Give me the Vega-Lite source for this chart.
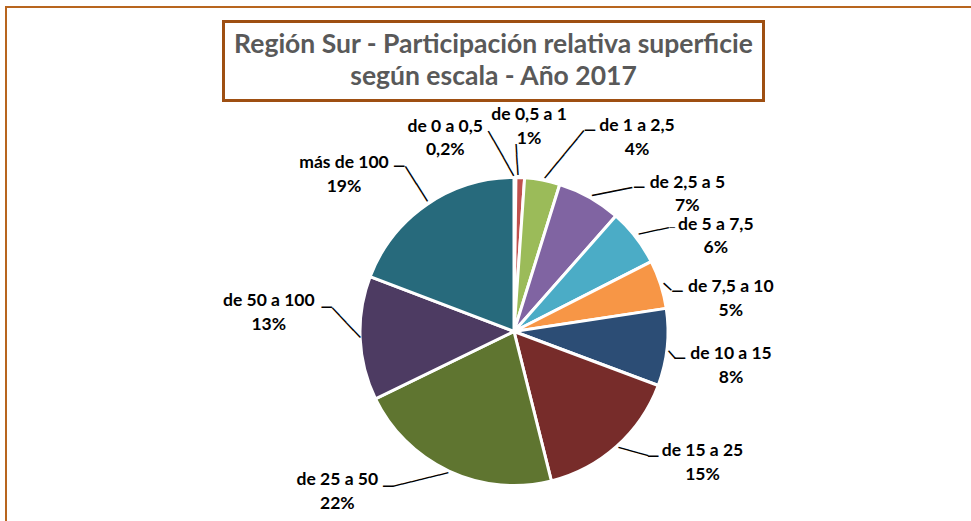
{
  "$schema": "https://vega.github.io/schema/vega-lite/v6.json",
  "background": "white",
  "padding": {"left": 6, "top": 7, "right": 0, "bottom": 0},
  "width": 1016,
  "height": 649,
  "view": {"stroke": "#B8651E", "strokeWidth": 2},
  "config": {"font": "Lato", "legend": {"strokeWidth": 3}},
  "data": {"values": [
    {"orden": 1, "escala": "de 0 a 0,5", "pct": 0.2, "etiqueta": "de 0 a 0,5\n0,2%"},
    {"orden": 2, "escala": "de 0,5 a 1", "pct": 0.9, "etiqueta": "de 0,5 a 1\n1%"},
    {"orden": 3, "escala": "de 1 a 2,5", "pct": 3.7, "etiqueta": "de 1 a 2,5\n4%"},
    {"orden": 4, "escala": "de 2,5 a 5", "pct": 6.7, "etiqueta": "de 2,5 a 5\n7%"},
    {"orden": 5, "escala": "de 5 a 7,5", "pct": 6.0, "etiqueta": "de 5 a 7,5\n6%"},
    {"orden": 6, "escala": "de 7,5  a 10", "pct": 5.1, "etiqueta": "de 7,5  a 10\n5%"},
    {"orden": 7, "escala": "de 10 a 15", "pct": 8.1, "etiqueta": "de 10 a 15\n8%"},
    {"orden": 8, "escala": "de 15 a 25", "pct": 15.4, "etiqueta": "de 15 a 25\n15%"},
    {"orden": 9, "escala": "de 25 a 50", "pct": 21.7, "etiqueta": "de 25 a 50\n22%"},
    {"orden": 10, "escala": "de 50 a 100", "pct": 13.0, "etiqueta": "de 50 a 100\n13%"},
    {"orden": 11, "escala": "más de 100", "pct": 19.2, "etiqueta": "más de 100\n19%"}
  ]},
  "encoding": {
    "theta": {"field": "pct", "type": "quantitative", "stack": true},
    "order": {"field": "orden", "type": "quantitative"}
  },
  "layer": [
    {
      "mark": {"type": "arc", "outerRadius": 154, "stroke": "white", "strokeWidth": 3},
      "encoding": {
        "color": {"field": "escala", "type": "nominal", "legend": null, "sort": null,
          "scale": {"domain": ["de 0 a 0,5", "de 0,5 a 1", "de 1 a 2,5", "de 2,5 a 5", "de 5 a 7,5", "de 7,5  a 10", "de 10 a 15", "de 15 a 25", "de 25 a 50", "de 50 a 100", "más de 100"],
            "range": ["#4F81BD", "#C0504D", "#9BBB59", "#8064A2", "#4BACC6", "#F79646", "#2C4D75", "#772C2A", "#5F7530", "#4D3B62", "#276A7C"]}}
      }
    },
    {
      "data": {"values": [{"titulo": "t"}]},
      "mark": {"type": "point", "size": 0, "opacity": 0},
      "encoding": {
        "theta": {"value": 0},
        "shape": {"field": "titulo", "type": "nominal", "legend": {
          "title": ["Región Sur - Participación relativa superficie", "según escala - Año 2017"],
          "orient": "none", "legendX": 217.5, "legendY": 14.5,
          "titleFont": "Lato", "titleFontSize": 26.5, "titleFontWeight": "bold", "titleColor": "#595959",
          "titleLineHeight": 32, "titleAlign": "center", "titleAnchor": "middle", "titleLimit": 2000, "titlePadding": 0, "titleBaseline": "top",
          "padding": 10, "strokeColor": "#9E4F12", "fillColor": "white",
          "labelExpr": "''", "symbolSize": 0, "symbolOpacity": 0, "symbolStrokeWidth": 0, "labelFontSize": 1, "rowPadding": 0
        }}
      }
    },
    {"mark": {"type": "text", "text": "─────", "font": "DejaVu Sans Mono", "fontSize": 17, "color": "black", "align": "center", "baseline": "middle", "radius": 178.2, "thetaOffset": -0.0833, "angle": 60.6},
     "encoding": {"opacity": {"condition": {"test": "datum.orden === 1", "value": 1}, "value": 0}}},
    {"mark": {"type": "text", "text": "───", "font": "DejaVu Sans Mono", "fontSize": 17, "color": "black", "align": "center", "baseline": "middle", "radius": 171.9, "thetaOffset": -0.0286, "angle": 86.5},
     "encoding": {"opacity": {"condition": {"test": "datum.orden === 2", "value": 1}, "value": 0}}},
    {"mark": {"type": "text", "text": "──────", "font": "DejaVu Sans Mono", "fontSize": 17, "color": "black", "align": "center", "baseline": "middle", "radius": 183.8, "thetaOffset": 0.0948, "angle": 309.5},
     "encoding": {"opacity": {"condition": {"test": "datum.orden === 3", "value": 1}, "value": 0}}},
    {"mark": {"type": "text", "text": "─", "font": "DejaVu Sans Mono", "fontSize": 17, "color": "black", "align": "center", "baseline": "middle", "radius": 214.7, "thetaOffset": 0.1754},
     "encoding": {"opacity": {"condition": {"test": "datum.orden === 3", "value": 1}, "value": 0}}},
    {"mark": {"type": "text", "text": "────", "font": "DejaVu Sans Mono", "fontSize": 17, "color": "black", "align": "center", "baseline": "middle", "radius": 170.3, "thetaOffset": 0.1031, "angle": 348.6},
     "encoding": {"opacity": {"condition": {"test": "datum.orden === 4", "value": 1}, "value": 0}}},
    {"mark": {"type": "text", "text": "─", "font": "DejaVu Sans Mono", "fontSize": 17, "color": "black", "align": "center", "baseline": "middle", "radius": 190.2, "thetaOffset": 0.2053},
     "encoding": {"opacity": {"condition": {"test": "datum.orden === 4", "value": 1}, "value": 0}}},
    {"mark": {"type": "text", "text": "───", "font": "DejaVu Sans Mono", "fontSize": 17, "color": "black", "align": "center", "baseline": "middle", "radius": 172, "thetaOffset": 0.0401, "angle": 348.1},
     "encoding": {"opacity": {"condition": {"test": "datum.orden === 5", "value": 1}, "value": 0}}},
    {"mark": {"type": "text", "text": "─", "font": "DejaVu Sans Mono", "fontSize": 9, "color": "black", "align": "center", "baseline": "middle", "radius": 189, "thetaOffset": 0.0815},
     "encoding": {"opacity": {"condition": {"test": "datum.orden === 5", "value": 1}, "value": 0}}},
    {"mark": {"type": "text", "text": "─", "font": "DejaVu Sans Mono", "fontSize": 17, "color": "black", "align": "center", "baseline": "middle", "radius": 159.2, "thetaOffset": 0.0304, "angle": 43},
     "encoding": {"opacity": {"condition": {"test": "datum.orden === 6", "value": 1}, "value": 0}}},
    {"mark": {"type": "text", "text": "─", "font": "DejaVu Sans Mono", "fontSize": 17, "color": "black", "align": "center", "baseline": "middle", "radius": 168.1, "thetaOffset": 0.0714},
     "encoding": {"opacity": {"condition": {"test": "datum.orden === 6", "value": 1}, "value": 0}}},
    {"mark": {"type": "text", "text": "─", "font": "DejaVu Sans Mono", "fontSize": 17, "color": "black", "align": "center", "baseline": "middle", "radius": 159.3, "thetaOffset": 0.0469, "angle": 48.6},
     "encoding": {"opacity": {"condition": {"test": "datum.orden === 7", "value": 1}, "value": 0}}},
    {"mark": {"type": "text", "text": "─", "font": "DejaVu Sans Mono", "fontSize": 17, "color": "black", "align": "center", "baseline": "middle", "radius": 168.1, "thetaOffset": 0.0618},
     "encoding": {"opacity": {"condition": {"test": "datum.orden === 7", "value": 1}, "value": 0}}},
    {"mark": {"type": "text", "text": "───", "font": "DejaVu Sans Mono", "fontSize": 17, "color": "black", "align": "center", "baseline": "middle", "radius": 169.7, "thetaOffset": -0.0490, "angle": 15.6},
     "encoding": {"opacity": {"condition": {"test": "datum.orden === 8", "value": 1}, "value": 0}}},
    {"mark": {"type": "text", "text": "─", "font": "DejaVu Sans Mono", "fontSize": 17, "color": "black", "align": "center", "baseline": "middle", "radius": 187.1, "thetaOffset": -0.1094},
     "encoding": {"opacity": {"condition": {"test": "datum.orden === 8", "value": 1}, "value": 0}}},
    {"mark": {"type": "text", "text": "──────", "font": "DejaVu Sans Mono", "fontSize": 15.7, "color": "black", "align": "center", "baseline": "middle", "radius": 175.3, "thetaOffset": 0.1250, "angle": 346.3},
     "encoding": {"opacity": {"condition": {"test": "datum.orden === 9", "value": 1}, "value": 0}}},
    {"mark": {"type": "text", "text": "─", "font": "DejaVu Sans Mono", "fontSize": 17, "color": "black", "align": "center", "baseline": "middle", "radius": 199.8, "thetaOffset": 0.2452},
     "encoding": {"opacity": {"condition": {"test": "datum.orden === 9", "value": 1}, "value": 0}}},
    {"mark": {"type": "text", "text": "────", "font": "DejaVu Sans Mono", "fontSize": 17, "color": "black", "align": "center", "baseline": "middle", "radius": 168.5, "thetaOffset": 0.0932, "angle": 46.7},
     "encoding": {"opacity": {"condition": {"test": "datum.orden === 10", "value": 1}, "value": 0}}},
    {"mark": {"type": "text", "text": "─", "font": "DejaVu Sans Mono", "fontSize": 17, "color": "black", "align": "center", "baseline": "middle", "radius": 188.9, "thetaOffset": 0.1676},
     "encoding": {"opacity": {"condition": {"test": "datum.orden === 10", "value": 1}, "value": 0}}},
    {"mark": {"type": "text", "text": "────", "font": "DejaVu Sans Mono", "fontSize": 17, "color": "black", "align": "center", "baseline": "middle", "radius": 176.9, "thetaOffset": 0.0141, "angle": 57.8},
     "encoding": {"opacity": {"condition": {"test": "datum.orden === 11", "value": 1}, "value": 0}}},
    {"mark": {"type": "text", "text": "─", "font": "DejaVu Sans Mono", "fontSize": 17, "color": "black", "align": "center", "baseline": "middle", "radius": 200.5, "thetaOffset": -0.0075},
     "encoding": {"opacity": {"condition": {"test": "datum.orden === 11", "value": 1}, "value": 0}}},
    {"mark": {"type": "text", "lineBreak": "\n", "font": "Lato", "fontWeight": "bold", "fontSize": 17.5, "lineHeight": 23.5, "color": "black", "align": "center", "baseline": "middle", "dy": -11.75, "radius": 204.8, "thetaOffset": -0.3484},
     "encoding": {"text": {"field": "etiqueta", "type": "nominal"}, "opacity": {"condition": {"test": "datum.orden === 1", "value": 1}, "value": 0}}},
    {"mark": {"type": "text", "lineBreak": "\n", "font": "Lato", "fontWeight": "bold", "fontSize": 17.5, "lineHeight": 23.5, "color": "black", "align": "center", "baseline": "middle", "dy": -11.75, "radius": 205.2, "thetaOffset": 0.0328},
     "encoding": {"text": {"field": "etiqueta", "type": "nominal"}, "opacity": {"condition": {"test": "datum.orden === 2", "value": 1}, "value": 0}}},
    {"mark": {"type": "text", "lineBreak": "\n", "font": "Lato", "fontWeight": "bold", "fontSize": 17.5, "lineHeight": 23.5, "color": "black", "align": "center", "baseline": "middle", "dy": -11.75, "radius": 229.4, "thetaOffset": 0.3807},
     "encoding": {"text": {"field": "etiqueta", "type": "nominal"}, "opacity": {"condition": {"test": "datum.orden === 3", "value": 1}, "value": 0}}},
    {"mark": {"type": "text", "lineBreak": "\n", "font": "Lato", "fontWeight": "bold", "fontSize": 17.5, "lineHeight": 23.5, "color": "black", "align": "center", "baseline": "middle", "dy": -11.75, "radius": 220.9, "thetaOffset": 0.3903},
     "encoding": {"text": {"field": "etiqueta", "type": "nominal"}, "opacity": {"condition": {"test": "datum.orden === 4", "value": 1}, "value": 0}}},
    {"mark": {"type": "text", "lineBreak": "\n", "font": "Lato", "fontWeight": "bold", "fontSize": 17.5, "lineHeight": 23.5, "color": "black", "align": "center", "baseline": "middle", "dy": -11.75, "radius": 223.1, "thetaOffset": 0.2194},
     "encoding": {"text": {"field": "etiqueta", "type": "nominal"}, "opacity": {"condition": {"test": "datum.orden === 5", "value": 1}, "value": 0}}},
    {"mark": {"type": "text", "lineBreak": "\n", "font": "Lato", "fontWeight": "bold", "fontSize": 17.5, "lineHeight": 23.5, "color": "black", "align": "center", "baseline": "middle", "dy": -11.75, "radius": 219.2, "thetaOffset": 0.1618},
     "encoding": {"text": {"field": "etiqueta", "type": "nominal"}, "opacity": {"condition": {"test": "datum.orden === 6", "value": 1}, "value": 0}}},
    {"mark": {"type": "text", "lineBreak": "\n", "font": "Lato", "fontWeight": "bold", "fontSize": 17.5, "lineHeight": 23.5, "color": "black", "align": "center", "baseline": "middle", "dy": -11.75, "radius": 219.7, "thetaOffset": 0.0536},
     "encoding": {"text": {"field": "etiqueta", "type": "nominal"}, "opacity": {"condition": {"test": "datum.orden === 7", "value": 1}, "value": 0}}},
    {"mark": {"type": "text", "lineBreak": "\n", "font": "Lato", "fontWeight": "bold", "fontSize": 17.5, "lineHeight": 23.5, "color": "black", "align": "center", "baseline": "middle", "dy": -11.75, "radius": 229.9, "thetaOffset": -0.2321},
     "encoding": {"text": {"field": "etiqueta", "type": "nominal"}, "opacity": {"condition": {"test": "datum.orden === 8", "value": 1}, "value": 0}}},
    {"mark": {"type": "text", "lineBreak": "\n", "font": "Lato", "fontWeight": "bold", "fontSize": 17.5, "lineHeight": 23.5, "color": "black", "align": "center", "baseline": "middle", "dy": -11.75, "radius": 238.6, "thetaOffset": 0.3971},
     "encoding": {"text": {"field": "etiqueta", "type": "nominal"}, "opacity": {"condition": {"test": "datum.orden === 9", "value": 1}, "value": 0}}},
    {"mark": {"type": "text", "lineBreak": "\n", "font": "Lato", "fontWeight": "bold", "fontSize": 17.5, "lineHeight": 23.5, "color": "black", "align": "center", "baseline": "middle", "dy": -11.75, "radius": 245.9, "thetaOffset": 0.1185},
     "encoding": {"text": {"field": "etiqueta", "type": "nominal"}, "opacity": {"condition": {"test": "datum.orden === 10", "value": 1}, "value": 0}}},
    {"mark": {"type": "text", "lineBreak": "\n", "font": "Lato", "fontWeight": "bold", "fontSize": 17.5, "lineHeight": 23.5, "color": "black", "align": "center", "baseline": "middle", "dy": -11.75, "radius": 230.9, "thetaOffset": -0.2241},
     "encoding": {"text": {"field": "etiqueta", "type": "nominal"}, "opacity": {"condition": {"test": "datum.orden === 11", "value": 1}, "value": 0}}}
  ]
}
